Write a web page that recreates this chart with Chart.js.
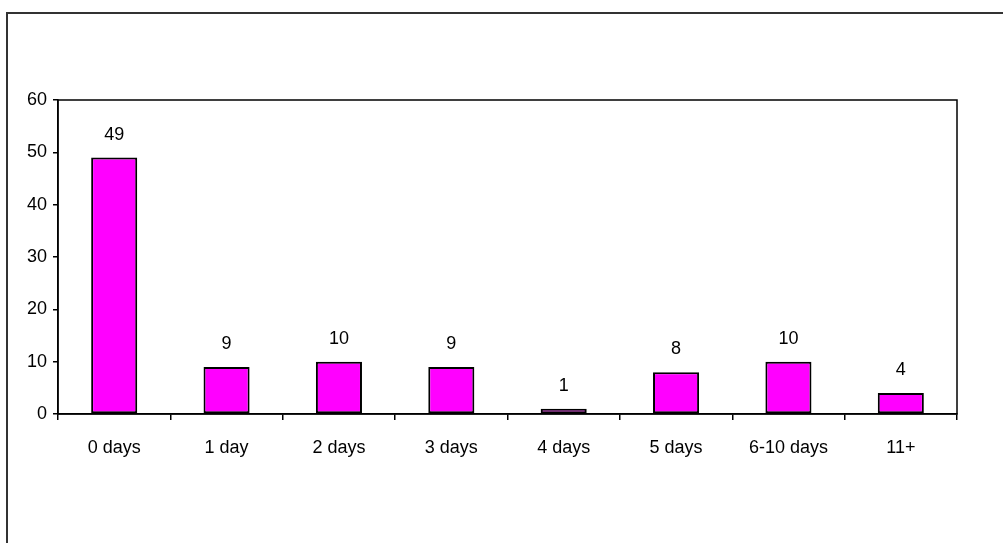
<!DOCTYPE html>
<html>
<head>
<meta charset="utf-8">
<script src="https://cdn.jsdelivr.net/npm/chart.js@4/dist/chart.umd.min.js"></script>
<style>
html,body{margin:0;padding:0;background:#fff;}
#wrap{position:relative;width:1003px;height:543px;}
</style>
</head>
<body>
<div id="wrap"><canvas id="c" width="1003" height="543"></canvas></div>
<script>
const categories = ["0 days","1 day","2 days","3 days","4 days","5 days","6-10 days","11+"];
const values = [49, 9, 10, 9, 1, 8, 10, 4];
const yTicks = [0, 10, 20, 30, 40, 50, 60];

const FONT = {family: "'Liberation Sans', Arial, sans-serif", size: 18};

const framePlugin = {
  id: 'frame',
  afterDraw(chart) {
    const ctx = chart.ctx, a = chart.chartArea;
    ctx.save();
    ctx.strokeStyle = '#333';
    ctx.lineWidth = 2;
    ctx.beginPath();
    ctx.moveTo(7, 560); ctx.lineTo(7, 13); ctx.lineTo(1010, 13);
    ctx.stroke();
    ctx.strokeStyle = '#000';
    ctx.lineWidth = 1.5;
    ctx.strokeRect(a.left, a.top, a.right - a.left, a.bottom - a.top);
    ctx.fillStyle = '#000';
    ctx.font = `${FONT.size}px ${FONT.family}`;
    ctx.textAlign = 'center';
    ctx.textBaseline = 'alphabetic';
    const meta = chart.getDatasetMeta(0);
    meta.data.forEach((bar, i) => {
      ctx.fillText(String(values[i]), bar.x, bar.y - 18);
    });
    ctx.restore();
  }
};

new Chart(document.getElementById('c'), {
  type: 'bar',
  data: {
    labels: categories,
    datasets: [{
      data: values,
      backgroundColor: '#FF00FF',
      borderColor: '#000',
      borderWidth: 2,
      borderSkipped: false,
      barPercentage: 0.41,
      categoryPercentage: 1.0
    }]
  },
  options: {
    responsive: false,
    animation: false,
    devicePixelRatio: 1,
    layout: {padding: {left: 0, top: 100, right: 46, bottom: 0}},
    plugins: {legend: {display: false}, tooltip: {enabled: false}},
    scales: {
      x: {
        offset: true,
        grid: {offset: true, drawOnChartArea: false, color: '#000', tickLength: 6, lineWidth: 1.5},
        border: {display: true, color: '#000', width: 1.5},
        ticks: {color: '#000', font: FONT, padding: 17, maxRotation: 0, autoSkip: false},
        afterFit(s) { s.height = 129; }
      },
      y: {
        min: 0, max: 60,
        afterBuildTicks(s) { s.ticks = yTicks.map(v => ({value: v})); },
        grid: {drawOnChartArea: false, color: '#000', tickLength: 5, lineWidth: 1.5},
        border: {display: true, color: '#000', width: 1.5},
        ticks: {color: '#000', font: FONT, padding: 6},
        afterFit(s) { s.width = 58; }
      }
    }
  },
  plugins: [framePlugin]
});
</script>
</body>
</html>
